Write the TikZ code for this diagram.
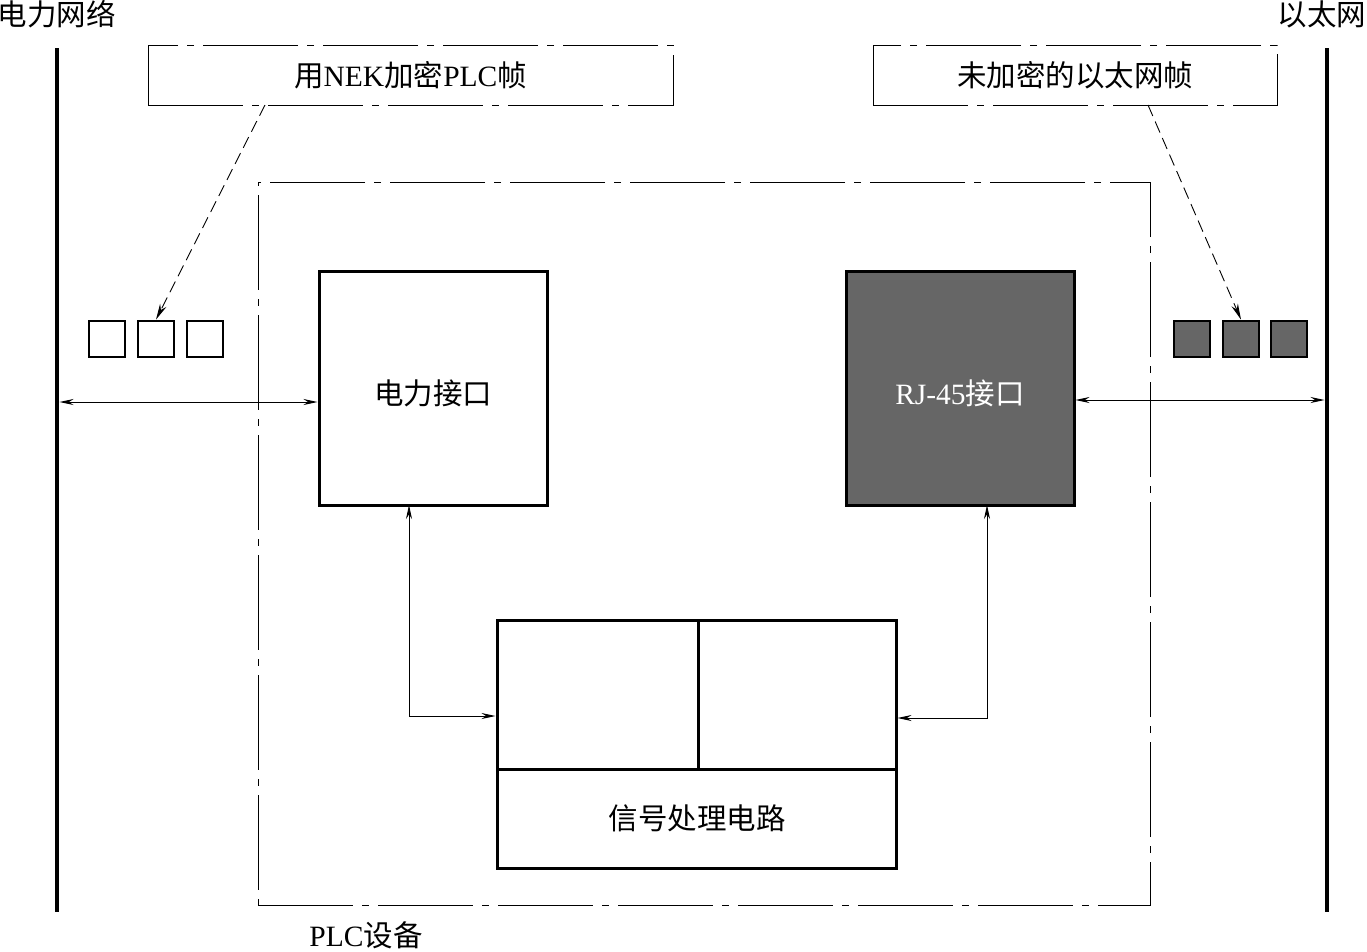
\documentclass[tikz,border=0pt]{standalone}
\usepackage{fontspec}
\setmainfont{Liberation Serif}
\newfontfamily\cjk{Noto Sans CJK SC}
\usetikzlibrary{arrows.meta,positioning}
\definecolor{dgray}{HTML}{666666}
\tikzset{
  dashdot/.style={line width=1pt,dash pattern=on 95pt off 9pt on 7pt off 9pt},
  blockbox/.style={draw,line width=3pt,inner sep=0pt},
  frame/.style={draw,line width=2.8pt,minimum width=36pt,minimum height=36pt,inner sep=0pt},
  conn/.style={line width=0.9pt,{Stealth[length=14pt,width=6pt]}-{Stealth[length=14pt,width=6pt]}},
  callout/.style={line width=0.9pt,dash pattern=on 12pt off 6pt,-{Stealth[length=16pt,width=7pt]}},
  txt/.style={font=\fontsize{29.5}{31}\selectfont,inner sep=0pt},
  bar/.style={line width=4.5pt}
}
\begin{document}
\begin{tikzpicture}[x=1pt,y=-1pt]
\useasboundingbox (0,0) rectangle (1367,951);
% bars
\coordinate (lt) at (57,48); \coordinate (lb) at (57,912);
\coordinate (rt) at (1327,48); \coordinate (rb) at (1327,912);
\draw[bar] (lt) -- (lb);
\draw[bar] (rt) -- (rb);
\node[txt] (ttl) at (57,14) {\cjk 电力网络};
\node[txt] (ttr) at (1322,14) {\cjk 以太网};
% callout boxes
\node[draw,dashdot,minimum width=525pt,minimum height=60pt,txt] (c1) at (410.5,75) {\cjk 用{\fontspec{Liberation Serif}NEK}加密{\fontspec{Liberation Serif}PLC}帧};
\node[draw,dashdot,minimum width=404pt,minimum height=60pt,txt] (c2) at (1075,75) {\cjk 未加密的以太网帧};
% PLC device
\node[draw,dashdot,minimum width=892pt,minimum height=723pt] (plc) at (704,543.5) {};
\node[txt] (plcl) at (366,935) {PLC{\cjk 设备}};
% interfaces
\node[blockbox,minimum width=228pt,minimum height=234pt] (pw) at (433,388) {};
\node[txt] (pwl) at (433,393) {\cjk 电力接口};
\node[blockbox,fill=dgray,minimum width=228pt,minimum height=234pt] (rj) at (960,388) {};
\node[txt,text=white] (rjl) at (960,393) {RJ-45{\cjk 接口}};
% signal processing
\node[blockbox,minimum width=399pt,minimum height=248pt] (sp) at (696.5,744) {};
\coordinate (hl) at (497,769); \coordinate (hr) at (896,769);
\coordinate (vt) at (698,620);
\draw[line width=3pt] (hl) -- (hr);
\draw[line width=3pt] (vt) -- (vt |- hl);
\node[txt] (spl) at (697,818) {\cjk 信号处理电路};
% frames
\node[frame] (f1) at (107,339) {};
\node[frame] (f2) at (156,339) {};
\node[frame] (f3) at (205,339) {};
\node[frame,fill=dgray] (g1) at (1192,339) {};
\node[frame,fill=dgray] (g2) at (1241,339) {};
\node[frame,fill=dgray] (g3) at (1289,339) {};
% connectors
\draw[conn] (59.5,402) -- (pw.west |- 0,402);
\draw[conn] (rj.east |- 0,400) -- (1324.5,400);
\draw[conn] (409,505) |- (sp.west |- 0,716);
\draw[conn] (987,505) |- (sp.east |- 0,718);
\draw[callout] (265,105) -- (f2.north);
\draw[callout] (1148,105) -- (g2.north);
\end{tikzpicture}
\end{document}
